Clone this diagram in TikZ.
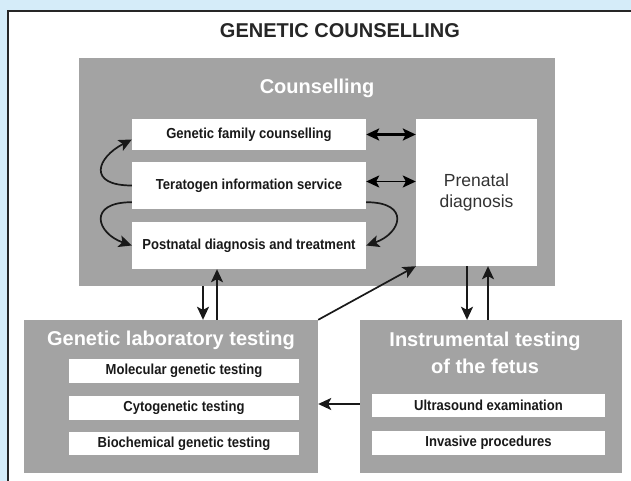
\documentclass[tikz,border=0pt]{standalone}
\usepackage{fontspec}
\setmainfont{Liberation Sans}
\newfontfamily\narrowfont[FakeStretch=0.9]{Liberation Sans}
\usetikzlibrary{arrows.meta}
\definecolor{boxgray}{HTML}{A3A3A3}
\definecolor{skyblue}{HTML}{D5ECF9}
\definecolor{framegray}{HTML}{262626}

\begin{document}
\begin{tikzpicture}[x=1pt, y=-1pt, >={Stealth[length=13pt,width=12pt,inset=3pt]},
    block/.style={fill=boxgray, inner sep=0pt},
    item/.style={fill=white, inner sep=0pt, minimum width=234pt, text=black!90, font=\narrowfont\bfseries\fontsize{14.5}{17}\selectfont},
    head/.style={text=white, align=center, font=\bfseries\fontsize{20}{27}\selectfont},
    link/.style={->, line width=1.7pt, black!90}]
    \useasboundingbox (0,0) rectangle (631,481);
    \fill[skyblue] (0,0) rectangle (631,481);
    \fill[white] (8,11) rectangle (631,481);
    \draw[line width=2.4pt, framegray] (8.2,481) -- (8.2,11.2) -- (631,11.2);
    \node[font=\fontsize{20}{24}\selectfont\bfseries, text=black!85] (title) at (340,31) {GENETIC COUNSELLING};

    \node[block, minimum width=476pt, minimum height=228pt] (cou) at (317,172) {};
    \node[head] (coutitle) at (317,88) {Counselling};
    \node[item, minimum height=31pt] (gfc) at (249,134.5) {Genetic family counselling};
    \node[item, minimum height=47pt] (ter) at (249,185.5) {Teratogen information service};
    \node[item, minimum height=47pt] (pst) at (249,245.5) {Postnatal diagnosis and treatment};
    \node[fill=white, inner sep=0pt, minimum width=121pt, minimum height=147pt, align=center,
        text=black!80, font=\fontsize{17.5}{21}\selectfont] (pre) at (476.5,192.5) {Prenatal\\diagnosis};

    \node[block, minimum width=294pt, minimum height=153pt] (lab) at (171,396.5) {};
    \node[head] (labtitle) at (171,340) {Genetic laboratory testing};
    \node[item, minimum width=230pt, minimum height=24pt] (mol) at (184,371) {Molecular genetic testing};
    \node[item, minimum width=230pt, minimum height=24pt] (cyt) at (184,408) {Cytogenetic testing};
    \node[item, minimum width=230pt, minimum height=23pt] (bio) at (184,443.5) {Biochemical genetic testing};

    \node[block, minimum width=262pt, minimum height=153pt] (ins) at (491,396.5) {};
    \node[head] (institle) at (485,353) {Instrumental testing\\of the fetus};
    \node[item, minimum width=233pt, minimum height=23pt] (uls) at (488.5,405.5) {Ultrasound examination};
    \node[item, minimum width=233pt, minimum height=24pt] (inv) at (488.5,443) {Invasive procedures};

    \coordinate (d1) at (203,0);
    \coordinate (u1) at (217,0);
    \coordinate (d2) at (467,0);
    \coordinate (u2) at (488,0);
    \coordinate (h) at (0,404);

    \draw[<->, line width=2.6pt] (gfc.east) -- (gfc.east -| pre.west);
    \draw[<->, line width=1.8pt] ([yshift=4pt]ter.east) -- ([yshift=4pt]ter.east -| pre.west);
    \draw[link] (ter.west) .. controls +(-45,0) and +(-35,18) .. ([yshift=-5pt]gfc.west);
    \draw[link] ([yshift=7pt]ter.south west) .. controls +(-45,0) and +(-35,-12) .. (pst.west);
    \draw[link] ([yshift=7pt]ter.south east) .. controls +(45,0) and +(35,-12) .. (pst.east);
    \draw[link] (cou.south -| d1) -- (lab.north -| d1);
    \draw[link] (lab.north -| u1) -- (pst.south -| u1);
    \draw[link] (lab.north east) -- (pre.south west);
    \draw[link] (pre.south -| d2) -- (ins.north -| d2);
    \draw[link] (ins.north -| u2) -- (pre.south -| u2);
    \draw[link] (ins.west |- h) -- (lab.east |- h);
\end{tikzpicture}
\end{document}
